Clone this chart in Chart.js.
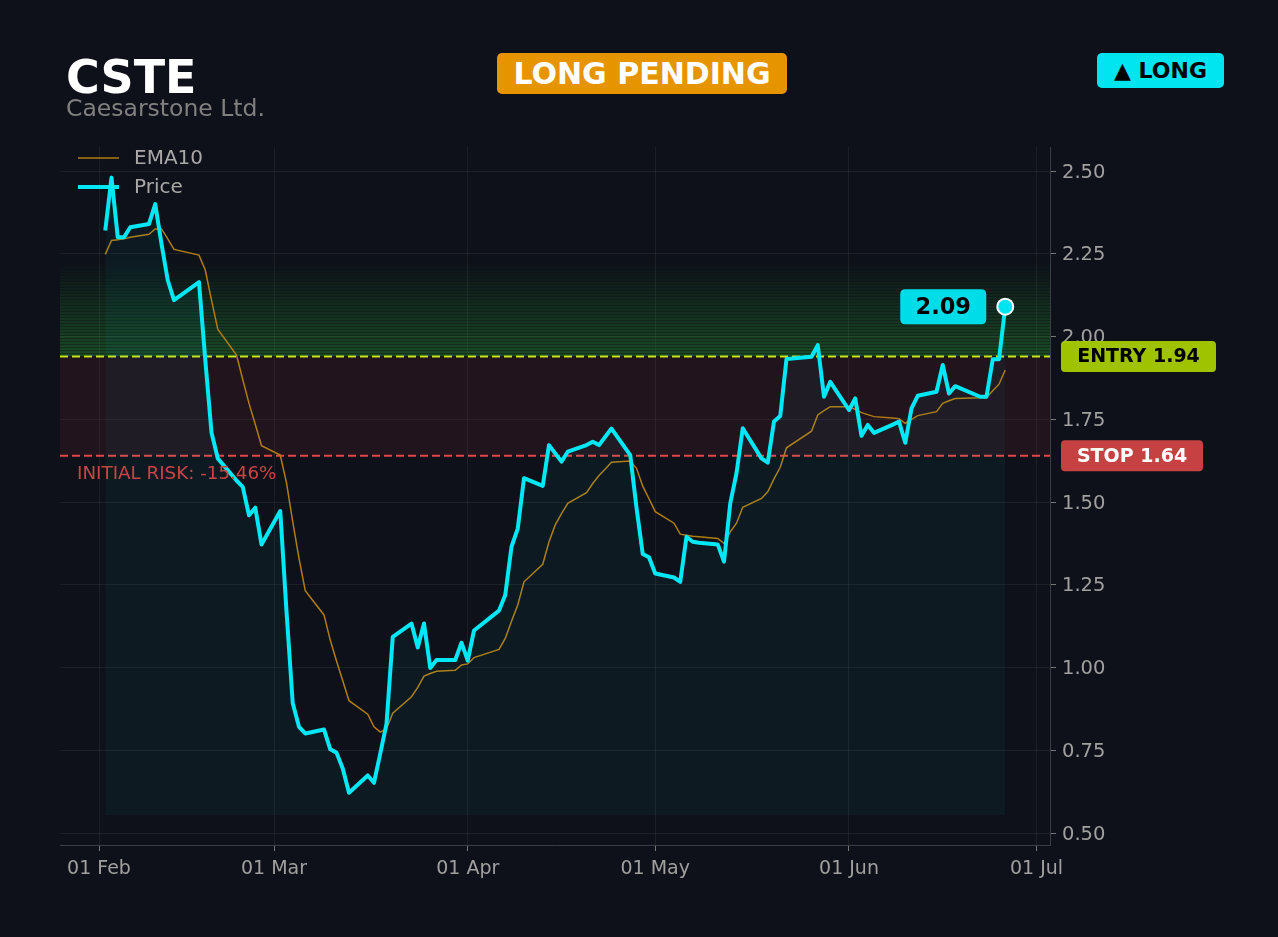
<!DOCTYPE html>
<html>
<head>
<meta charset="utf-8">
<script src="https://cdn.jsdelivr.net/npm/chart.js@4.4.1/dist/chart.umd.min.js"></script>
<style>
  html, body { margin: 0; padding: 0; background: #0e1119; }
  body { width: 1278px; height: 937px; position: relative; overflow: hidden; font-family: "DejaVu Sans", sans-serif; }
  #chart { position: absolute; left: 0; top: 0; }
  .txt { position: absolute; white-space: nowrap; line-height: 1; }
  #ticker { left: 66px; top: 54px; font-size: 46px; font-weight: bold; color: #ffffff; }
  #name { left: 66px; top: 97px; font-size: 23.5px; color: #808080; }
  .badge { position: absolute; display: flex; align-items: center; justify-content: center; font-weight: bold; border-radius: 5px; white-space: nowrap; }
  #status { left: 497px; top: 53px; width: 290px; height: 41px; background: #e69500; color: #ffffff; font-size: 30px; line-height: 38px; }
  #side { left: 1097px; top: 53px; width: 127px; height: 35px; background: #00e5f0; color: #000000; font-size: 22px; }
</style>
</head>
<body>
<canvas id="chart" width="1278" height="937"></canvas>
<div class="txt" id="ticker">CSTE</div>
<div class="txt" id="name">Caesarstone Ltd.</div>
<div class="badge" id="status">LONG PENDING</div>
<div class="badge" id="side">▲ LONG</div>
<script>
const dates = [
  '2026-02-02', '2026-02-03', '2026-02-04', '2026-02-05', '2026-02-06',
  '2026-02-09', '2026-02-10', '2026-02-11', '2026-02-12', '2026-02-13',
  '2026-02-17', '2026-02-18', '2026-02-19', '2026-02-20',
  '2026-02-23', '2026-02-24', '2026-02-25', '2026-02-26', '2026-02-27',
  '2026-03-02', '2026-03-03', '2026-03-04', '2026-03-05', '2026-03-06',
  '2026-03-09', '2026-03-10', '2026-03-11', '2026-03-12', '2026-03-13',
  '2026-03-16', '2026-03-17', '2026-03-18', '2026-03-19', '2026-03-20',
  '2026-03-23', '2026-03-24', '2026-03-25', '2026-03-26', '2026-03-27',
  '2026-03-30', '2026-03-31', '2026-04-01', '2026-04-02',
  '2026-04-06', '2026-04-07', '2026-04-08', '2026-04-09', '2026-04-10',
  '2026-04-13', '2026-04-14', '2026-04-15', '2026-04-16', '2026-04-17',
  '2026-04-20', '2026-04-21', '2026-04-22', '2026-04-23', '2026-04-24',
  '2026-04-27', '2026-04-28', '2026-04-29', '2026-04-30', '2026-05-01',
  '2026-05-04', '2026-05-05', '2026-05-06', '2026-05-07', '2026-05-08',
  '2026-05-11', '2026-05-12', '2026-05-13', '2026-05-14', '2026-05-15',
  '2026-05-18', '2026-05-19', '2026-05-20', '2026-05-21', '2026-05-22',
  '2026-05-26', '2026-05-27', '2026-05-28', '2026-05-29',
  '2026-06-01', '2026-06-02', '2026-06-03', '2026-06-04', '2026-06-05',
  '2026-06-08', '2026-06-09', '2026-06-10', '2026-06-11', '2026-06-12',
  '2026-06-15', '2026-06-16', '2026-06-17', '2026-06-18',
  '2026-06-22', '2026-06-23', '2026-06-24', '2026-06-25', '2026-06-26'
]

const price = [
  2.32, 2.48, 2.30, 2.30, 2.33,
  2.34, 2.40, 2.28, 2.17, 2.11,
  2.164, 1.93, 1.71, 1.632,
  1.565, 1.546, 1.46, 1.483, 1.372,
  1.473, 1.17, 0.892, 0.821, 0.801,
  0.813, 0.753, 0.743, 0.695, 0.622,
  0.674, 0.652, 0.74, 0.83, 1.093,
  1.133, 1.061, 1.133, 0.999, 1.023,
  1.023, 1.075, 1.021, 1.112,
  1.172, 1.219, 1.365, 1.42, 1.572,
  1.549, 1.672, 1.647, 1.622, 1.652,
  1.672, 1.682, 1.672, 1.697, 1.722,
  1.642, 1.483, 1.343, 1.333, 1.284,
  1.272, 1.259, 1.395, 1.38, 1.377,
  1.372, 1.32, 1.496, 1.587, 1.723,
  1.632, 1.619, 1.743, 1.76, 1.932,
  1.939, 1.974, 1.818, 1.863,
  1.778, 1.813, 1.70, 1.733, 1.709,
  1.734, 1.743, 1.679, 1.783, 1.821,
  1.833, 1.914, 1.828, 1.85,
  1.818, 1.818, 1.931, 1.931, 2.09
]

const ema10 = [
  2.248, 2.29, 2.292, 2.295, 2.30,
  2.309, 2.325, 2.325, 2.295, 2.263,
  2.246, 2.201, 2.11, 2.022,
  1.944, 1.87, 1.798, 1.735, 1.67,
  1.642, 1.558, 1.44, 1.33, 1.232,
  1.159, 1.083, 1.02, 0.96, 0.90,
  0.859, 0.821, 0.805, 0.815, 0.862,
  0.912, 0.94, 0.974, 0.982, 0.989,
  0.992, 1.008, 1.011, 1.03,
  1.055, 1.088, 1.14, 1.189, 1.259,
  1.312, 1.38, 1.431, 1.465, 1.496,
  1.528, 1.556, 1.58, 1.60, 1.62,
  1.624, 1.602, 1.548, 1.51, 1.471,
  1.436, 1.403, 1.40, 1.397, 1.395,
  1.39, 1.375, 1.41, 1.436, 1.484,
  1.511, 1.531, 1.57, 1.605, 1.664,
  1.714, 1.763, 1.776, 1.788,
  1.788, 1.78, 1.77, 1.764, 1.758,
  1.754, 1.752, 1.738, 1.75, 1.761,
  1.773, 1.798, 1.806, 1.813,
  1.815, 1.816, 1.836, 1.856, 1.899
]

const monthTicks = [ '2026-02-01', '2026-03-01', '2026-04-01', '2026-05-01', '2026-06-01', '2026-07-01' ]
const monthLabels = [ '01 Feb', '01 Mar', '01 Apr', '01 May', '01 Jun', '01 Jul' ]
const yTicks = [ 0.50, 0.75, 1.00, 1.25, 1.50, 1.75, 2.00, 2.25, 2.50 ]

const entry = 1.94
const stop = 1.64
const target = 2.24
const riskText = 'INITIAL RISK: -15.46%'
const fillBase = 0.555

// days since 1 Feb, used as the x value
const day0 = Date.parse( monthTicks[ 0 ] )
const toDay = ( s ) => ( Date.parse( s ) - day0 ) / 864e5
const tickDays = monthTicks.map( toDay )

const FONT = '"DejaVu Sans", sans-serif'
Chart.defaults.font.family = FONT

function roundBox( ctx, x, y, w, h, r ) {
  ctx.beginPath()
  ctx.moveTo( x + r, y )
  ctx.lineTo( x + w - r, y )
  ctx.quadraticCurveTo( x + w, y, x + w, y + r )
  ctx.lineTo( x + w, y + h - r )
  ctx.quadraticCurveTo( x + w, y + h, x + w - r, y + h )
  ctx.lineTo( x + r, y + h )
  ctx.quadraticCurveTo( x, y + h, x, y + h - r )
  ctx.lineTo( x, y + r )
  ctx.quadraticCurveTo( x, y, x + r, y )
  ctx.closePath()
}

const zones = {
  id: 'zones',
  beforeDatasetsDraw( chart ) {
    const { ctx, chartArea: a, scales: { y } } = chart
    const yE = y.getPixelForValue( entry )
    const yS = y.getPixelForValue( stop )
    const yT = y.getPixelForValue( target )
    ctx.save()
    // risk band
    ctx.fillStyle = 'rgba(210,50,60,0.1)'
    ctx.fillRect( a.left, yE, a.width, yS - yE )
    // target zone, striped and fading upwards
    const n = 33, h = ( yE - yT ) / n
    for ( let i = 0; i < n; i++ ) {
      const t = Math.pow( 1 - i / n, 1.1 )
      const top = yE - ( i + 1 ) * h
      ctx.fillStyle = `rgba(45,170,55,${ 0.24 * t })`
      ctx.fillRect( a.left, top, a.width, h )
      ctx.fillStyle = `rgba(60,190,70,${ 0.2 * t })`
      ctx.fillRect( a.left, top + 1, a.width, h - 1.6 )
    }
    ctx.lineWidth = 2
    ctx.setLineDash( [ 8, 4 ] )
    ctx.strokeStyle = '#c8e41a'
    ctx.beginPath(); ctx.moveTo( a.left, yE ); ctx.lineTo( a.right, yE ); ctx.stroke()
    ctx.strokeStyle = '#e04848'
    ctx.beginPath(); ctx.moveTo( a.left, yS ); ctx.lineTo( a.right, yS ); ctx.stroke()
    ctx.restore()
  },
  afterDatasetsDraw( chart ) {
    const { ctx, chartArea: a, scales: { y } } = chart
    ctx.save()
    // risk text
    ctx.fillStyle = '#c94545'
    ctx.font = `18.3px ${ FONT }`
    ctx.textBaseline = 'middle'
    ctx.fillText( riskText, a.left + 17, y.getPixelForValue( stop ) + 19 )

    // legend
    const rows = [ [ 'EMA10', '#b07d12', 1.5, 158 ], [ 'Price', '#00e8f5', 4, 187 ] ]
    ctx.font = `20px ${ FONT }`
    for ( const [ label, col, w, ly ] of rows ) {
      ctx.strokeStyle = col
      ctx.lineWidth = w
      ctx.beginPath(); ctx.moveTo( 78, ly ); ctx.lineTo( 119, ly ); ctx.stroke()
      ctx.fillStyle = '#a8a8a8'
      ctx.fillText( label, 134, ly + 1 )
    }

    // last price label
    const meta = chart.getDatasetMeta( 1 )
    const last = meta.data[ meta.data.length - 1 ]
    roundBox( ctx, last.x - 105, last.y - 17.5, 86, 35, 5 )
    ctx.fillStyle = '#00dde8'
    ctx.fill()
    ctx.fillStyle = '#000000'
    ctx.font = `bold 22.5px ${ FONT }`
    ctx.textAlign = 'center'
    ctx.fillText( price[ price.length - 1 ].toFixed( 2 ), last.x - 62, last.y + 1 )
    ctx.restore()
  },
  afterDraw( chart ) {
    const { ctx, chartArea: a, scales: { y } } = chart
    ctx.save()
    ctx.font = `bold 19px ${ FONT }`
    ctx.textBaseline = 'middle'
    const tags = [ [ `ENTRY ${ entry.toFixed( 2 ) }`, entry, '#a8cc00', '#000000', 155 ],
                   [ `STOP ${ stop.toFixed( 2 ) }`, stop, '#d04545', '#ffffff', 142 ] ]
    for ( const [ label, v, bg, fg, w ] of tags ) {
      const py = y.getPixelForValue( v )
      roundBox( ctx, a.right + 11, py - 15.5, w, 31, 4 )
      ctx.globalAlpha = 0.95
      ctx.fillStyle = bg
      ctx.fill()
      ctx.globalAlpha = 1
      ctx.fillStyle = fg
      ctx.textAlign = 'center'
      ctx.fillText( label, a.right + 11 + w / 2, py + 1 )
    }
    ctx.restore()
  }
}

new Chart( document.getElementById( 'chart' ), {
  type: 'line',
  data: {
    datasets: [ {
      label: 'EMA10',
      data: dates.map( ( d, i ) => ( { x: toDay( d ), y: ema10[ i ] } ) ),
      borderColor: '#b07d12',
      borderWidth: 1.5,
      pointRadius: 0,
      fill: false,
      order: 1
    }, {
      label: 'Price',
      data: dates.map( ( d, i ) => ( { x: toDay( d ), y: price[ i ] } ) ),
      borderColor: '#00e8f5',
      borderWidth: 4,
      borderJoinStyle: 'round',
      backgroundColor: 'rgba(0,229,255,0.045)',
      fill: { value: fillBase },
      pointRadius: ( c ) => c.dataIndex === price.length - 1 ? 8 : 0,
      pointBackgroundColor: '#00e5f0',
      pointBorderColor: '#ffffff',
      pointBorderWidth: 2,
      order: 0
    } ]
  },
  options: {
    responsive: false,
    animation: false,
    events: [ ],
    layout: { padding: { left: 60, top: 147, right: 0, bottom: 0 } },
    plugins: { legend: { display: false }, tooltip: { enabled: false } },
    scales: {
      x: {
        type: 'linear',
        min: -6.24,
        max: 152.16,
        afterBuildTicks: ( s ) => { s.ticks = tickDays.map( ( v ) => ( { value: v } ) ) },
        afterFit: ( s ) => { s.height = 92 },
        ticks: {
          color: '#a0a0a0',
          font: { size: 19 },
          padding: 7,
          maxRotation: 0,
          callback: ( v ) => monthLabels[ tickDays.indexOf( v ) ]
        },
        grid: { color: 'rgba(255,255,255,0.06)', tickColor: '#777777', tickLength: 6 },
        border: { color: '#3a3d45' }
      },
      y: {
        position: 'right',
        min: 0.464,
        max: 2.5725,
        afterBuildTicks: ( s ) => { s.ticks = yTicks.map( ( v ) => ( { value: v } ) ) },
        afterFit: ( s ) => { s.width = 228 },
        ticks: {
          color: '#a0a0a0',
          font: { size: 19.5 },
          padding: 6,
          labelOffset: 1.5,
          callback: ( v ) => v.toFixed( 2 )
        },
        grid: { color: 'rgba(255,255,255,0.06)', tickColor: '#777777', tickLength: 6 },
        border: { color: '#3a3d45' }
      }
    }
  },
  plugins: [ zones ]
} )
</script>
</body>
</html>
